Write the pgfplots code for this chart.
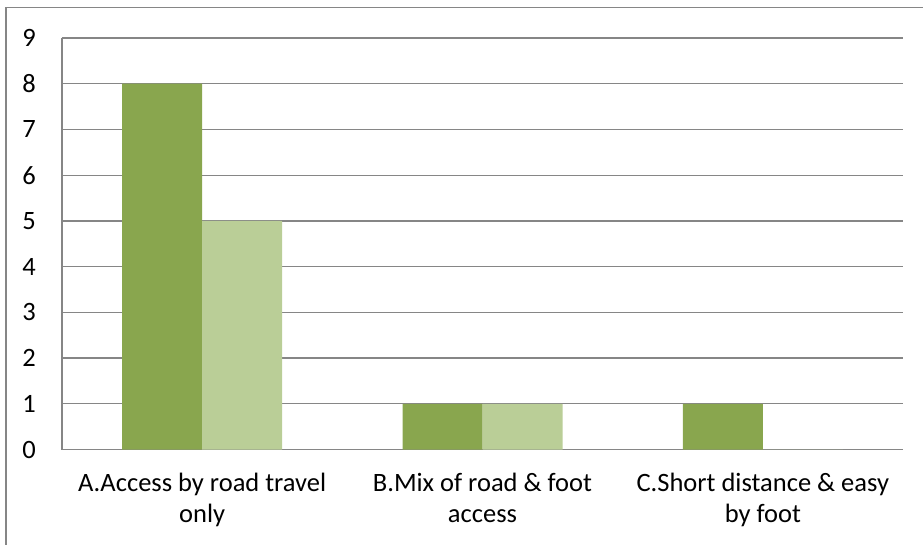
\documentclass[border=0pt]{standalone}
\usepackage{fontspec}
\setmainfont{Carlito}
\usepackage{pgfplots}
\pgfplotsset{compat=1.18}
\definecolor{darkg}{HTML}{89A64E}
\definecolor{lightg}{HTML}{BACE97}
\definecolor{gridg}{HTML}{868686}
\begin{document}
\begin{tikzpicture}
\path[use as bounding box] (-62bp,-95.5bp) rectangle (861bp,449.5bp);
\draw[gridg, line width=1.3bp] (-56bp,-100bp) -- (-56bp,442bp) -- (870bp,442bp);
\begin{axis}[
  at={(0,0)}, anchor=south west,
  scale only axis, width=841bp, height=411.5bp,
  xmin=-0.5, xmax=2.5, ymin=0, ymax=9,
  ytick={0,1,2,3,4,5,6,7,8,9},
  xtick={0,1,2},
  xticklabels={{A.Access by road travel\\only},{B.Mix of road \& foot\\access},{C.Short distance \& easy\\by foot}},
  axis lines*=left,
  axis line style={-, gridg, line width=1.3bp},
  ymajorgrids,
  major grid style={gridg, line width=1.3bp},
  major tick length=0pt,
  ybar=0pt, bar width=80bp,
  /pgf/number format/assume math mode=true,
  yticklabel style={anchor=east, inner sep=0pt, xshift=-26bp, font=\fontsize{26.5bp}{31bp}\selectfont},
  xticklabel style={anchor=north, align=center, inner sep=0pt, yshift=-23bp, font=\fontsize{26.5bp}{31bp}\selectfont},
]
\addplot[fill=darkg, draw=none] coordinates {(0,8) (1,1) (2,1)};
\addplot[fill=lightg, draw=none] coordinates {(0,5) (1,1) (2,0)};
\end{axis}
\end{tikzpicture}
\end{document}
